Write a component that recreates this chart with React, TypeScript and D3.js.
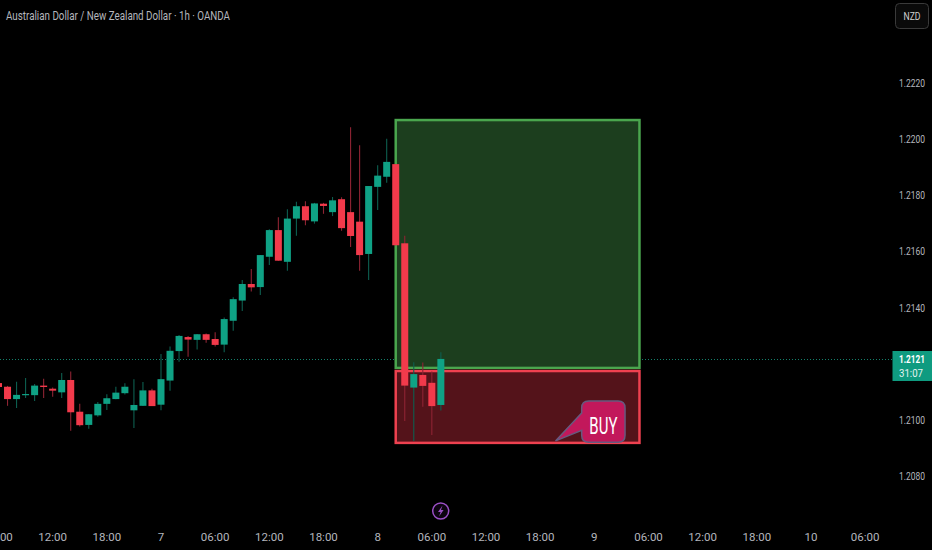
import React from "react";
import * as d3 from "d3";

const W = 932;
const H = 550;
const FONT = "Roboto, 'Liberation Sans', sans-serif";

// Bars are indexed in hours from the start of day 7 (first bar = -18)
const firstBar = -18;
const opens = [1.21131,1.21118,1.21074,1.21089,1.21088,1.21122,1.21111,1.21098,1.21142,1.21029,1.20982,1.21016,1.21057,1.21074,1.21095,1.21034,1.2105,1.21105,1.21054,1.2114,1.21245,1.21295,1.21285,1.21305,1.21288,1.21268,1.21353,1.21425,1.21484,1.21473,1.21581,1.21676,1.21563,1.21717,1.21761,1.21707,1.2177,1.2174,1.21786,1.2174,1.21706,1.21591,1.2183,1.21866,1.21911,1.21629,1.21115,1.2116,1.21132,1.21053];
const highs = [1.21135,1.21121,1.21136,1.21149,1.21128,1.21146,1.21115,1.21167,1.21172,1.21057,1.21021,1.21064,1.21091,1.21118,1.2113,1.21145,1.21135,1.21111,1.21235,1.21261,1.21302,1.21299,1.21306,1.21308,1.21312,1.21365,1.21437,1.21498,1.21537,1.21587,1.21679,1.21722,1.2175,1.21777,1.21779,1.21773,1.21773,1.21794,1.21793,1.22042,1.21978,1.21833,1.21907,1.22001,1.21911,1.21656,1.21205,1.21204,1.21172,1.21241];
const lows = [1.21113,1.2105,1.21042,1.21078,1.21067,1.21078,1.21082,1.21078,1.20961,1.20976,1.20968,1.21011,1.21035,1.21073,1.2109,1.20971,1.21049,1.21049,1.21034,1.21104,1.21207,1.21225,1.21251,1.21275,1.21261,1.21241,1.21317,1.21388,1.21457,1.21445,1.21552,1.21567,1.21531,1.21656,1.21693,1.21699,1.21734,1.21726,1.21674,1.21616,1.21531,1.21498,1.21748,1.21845,1.21622,1.20996,1.20925,1.21047,1.20946,1.21033];
const closes = [1.21117,1.21074,1.21089,1.21092,1.21122,1.21117,1.21104,1.21142,1.21027,1.20981,1.2102,1.21057,1.21077,1.21097,1.21118,1.21053,1.21105,1.21049,1.21145,1.21246,1.21299,1.21286,1.21305,1.21285,1.21267,1.21359,1.2143,1.21484,1.21472,1.21587,1.21676,1.21567,1.21717,1.21761,1.21711,1.21771,1.21762,1.21782,1.21683,1.21655,1.21587,1.21833,1.2187,1.21919,1.21622,1.21122,1.21163,1.21121,1.21049,1.21217];

const priceTicks = [1.222, 1.22, 1.218, 1.216, 1.214, 1.21, 1.208];
const timeTicks: [number, string][] = [
  [-18, "06:00"], [-12, "12:00"], [-6, "18:00"], [0, "7"], [6, "06:00"], [12, "12:00"], [18, "18:00"],
  [24, "8"], [30, "06:00"], [36, "12:00"], [42, "18:00"], [48, "9"], [54, "06:00"], [60, "12:00"], [66, "18:00"],
  [72, "10"], [78, "06:00"],
];

const lastPrice = 1.21215;
const tpLevel = 1.22068;
const greenBottom = 1.21185;
const redTop = 1.21174;
const slLevel = 1.20918;
const boxStart = 26;
const boxEnd = 53;
const calloutBar = [43.7, 46.6, 51.4];
const calloutPrice = [1.21067, 1.2092, 1.20925];
const calloutLabelBar = 49;
const calloutLabelPrice = 1.20951;

const COLORS = {
  up: "#0fa285",
  down: "#f23a4b",
  upWick: "#0d5f50",
  downWick: "#8e2433",
  text: "#b4b6bd",
};

const x = d3.scaleLinear().domain([0, 72]).range([161, 811]);
const y = d3.scaleLinear().domain([1.208, 1.222]).range([476, 83]);

export default function App() {
  const boxX0 = x(boxStart);
  const boxX1 = x(boxEnd);
  const bubbleL = x(calloutBar[1]);
  const bubbleR = x(calloutBar[2]);
  const bubbleT = y(calloutPrice[0]);
  const bubbleB = y(calloutPrice[1]);
  const tailX = x(calloutBar[0]);
  const r = 7;
  const bubble = [
    `M${bubbleL + r},${bubbleT}`, `H${bubbleR - r}`, `Q${bubbleR},${bubbleT} ${bubbleR},${bubbleT + r}`,
    `V${bubbleB - r}`, `Q${bubbleR},${bubbleB} ${bubbleR - r},${bubbleB}`, `H${bubbleL + r}`,
    `Q${bubbleL},${bubbleB} ${bubbleL},${bubbleB - r}`, `V${bubbleB - 12}`,
    `L${tailX},${y(calloutPrice[2])}`, `L${bubbleL},${bubbleT + 12}`, `V${bubbleT + r}`,
    `Q${bubbleL},${bubbleT} ${bubbleL + r},${bubbleT}`, "Z",
  ].join(" ");

  return (
    <svg width={W} height={H} viewBox={`0 0 ${W} ${H}`}
      style={{ position: "absolute", left: 0, top: 0, background: "#000", fontFamily: FONT }}>
      <rect width={W} height={H} fill="#000" />

      {/* Title */}
      <text x={6} y={20} fontSize={13} fill={COLORS.text} textLength={224} lengthAdjust="spacingAndGlyphs">
        Australian Dollar / New Zealand Dollar · 1h · OANDA
      </text>

      {/* Last price line */}
      <line x1={0} x2={893} y1={y(lastPrice)} y2={y(lastPrice)} stroke="#14806b" strokeWidth={1} strokeDasharray="1 2" />

      {/* Position boxes */}
      <rect x={boxX0} y={y(tpLevel)} width={boxX1 - boxX0} height={y(greenBottom) - y(tpLevel)}
        fill="#1c3e1e" stroke="#4aa64e" strokeWidth={2.5} />
      <rect x={boxX0} y={y(redTop)} width={boxX1 - boxX0} height={y(slLevel) - y(redTop)}
        fill="#54131a" stroke="#ef4150" strokeWidth={2.5} />

      {/* Candles */}
      <g>
        {opens.map((o, k) => {
          const c = closes[k];
          const up = c >= o;
          const cx = x(firstBar + k);
          const top = y(Math.max(o, c));
          const bot = y(Math.min(o, c));
          return (
            <g key={k}>
              <line x1={cx} x2={cx} y1={y(highs[k])} y2={y(lows[k])}
                stroke={up ? COLORS.upWick : COLORS.downWick} strokeWidth={1.1} />
              <rect x={cx - 3.5} width={7} y={top} height={Math.max(bot - top, 1.2)}
                fill={up ? COLORS.up : COLORS.down} />
            </g>
          );
        })}
      </g>

      {/* BUY callout */}
      <path d={bubble} fill="#c2185b" stroke="#67597f" strokeWidth={1.5} />
      <text x={x(calloutLabelBar)} y={y(calloutLabelPrice)} fontSize={23} fill="#fff" textAnchor="middle"
        textLength={28} lengthAdjust="spacingAndGlyphs">BUY</text>

      {/* Price axis */}
      {priceTicks.map((p) => (
        <text key={p} x={899} y={y(p) + 4} fontSize={11} fill={COLORS.text}
          textLength={26} lengthAdjust="spacingAndGlyphs">{d3.format(".4f")(p)}</text>
      ))}
      <rect x={892.5} y={351} width={39.5} height={30} fill="#0f9b80" />
      <text x={899} y={363} fontSize={11.5} fontWeight={700} fill="#fff" textLength={26} lengthAdjust="spacingAndGlyphs">1.2121</text>
      <text x={899} y={377} fontSize={11.5} fill="#e6f3f0" textLength={24} lengthAdjust="spacingAndGlyphs">31:07</text>

      {/* Currency button */}
      <rect x={895.5} y={3.5} width={33} height={25} rx={4} fill="#0a0a0a" stroke="#3a3a3a" />
      <text x={912} y={20} fontSize={11} fill="#d0d0d0" textAnchor="middle" textLength={17} lengthAdjust="spacingAndGlyphs">NZD</text>

      {/* Time axis */}
      {timeTicks.map(([t, label], k) => (
        <text key={k} x={x(t)} y={541} fontSize={11.5} fill={COLORS.text} textAnchor="middle">{label}</text>
      ))}

      {/* Lightning marker */}
      <circle cx={440.7} cy={511} r={8} fill="#0c0410" stroke="#9a4fc4" strokeWidth={1.5} />
      <path d="M442.5,505.5 L438,512 L440.6,512 L439,516.5 L443.6,510 L441,510 Z" fill="#9a4fc4" />
    </svg>
  );
}
